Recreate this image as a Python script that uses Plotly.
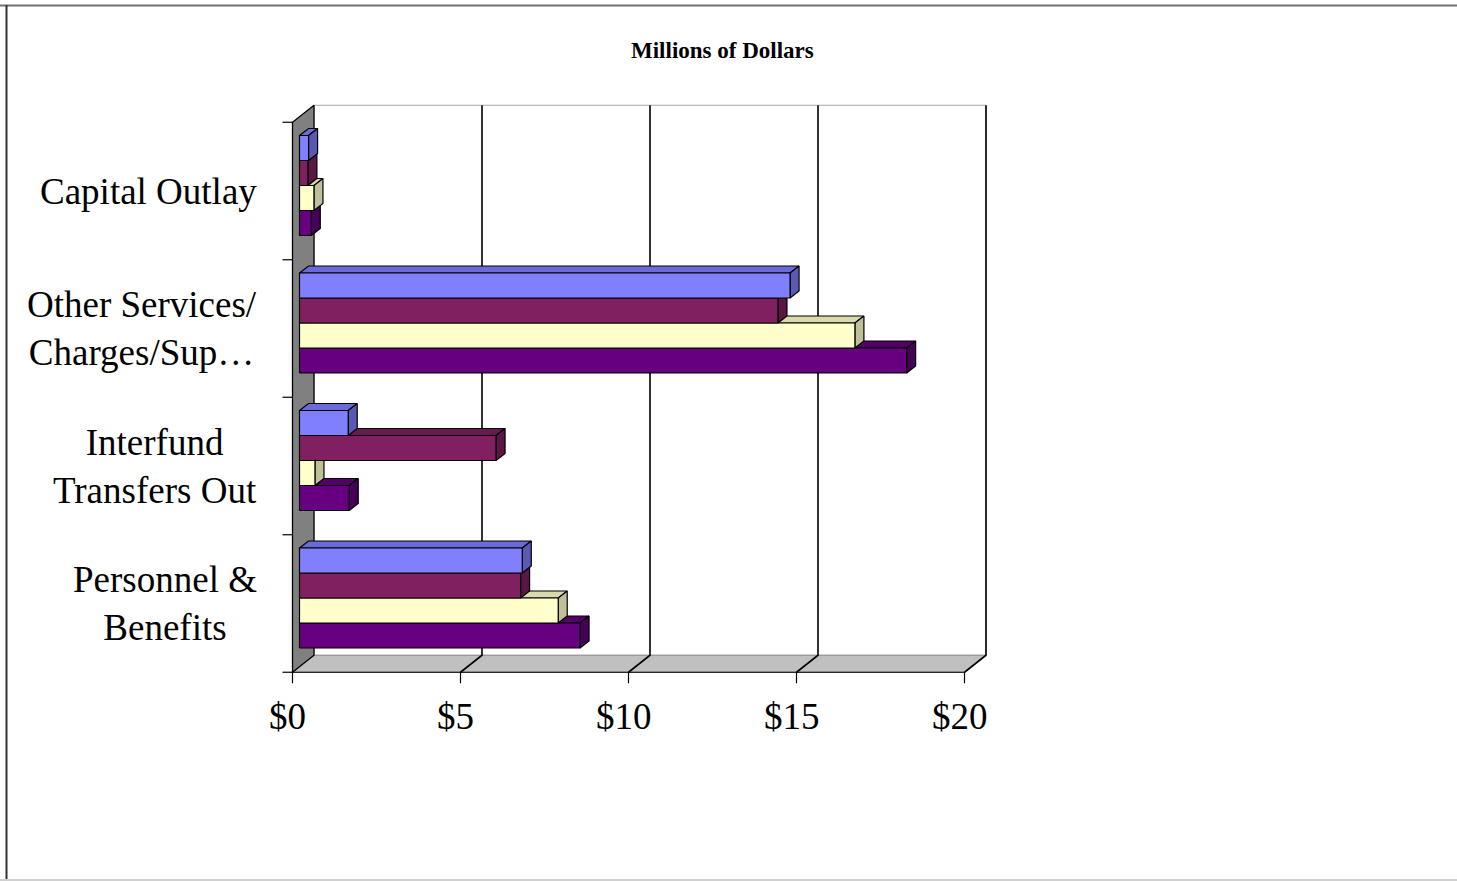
import plotly.graph_objects as go

# ---------------- data ----------------
CATEGORIES = ["Personnel &<br>Benefits", "Interfund<br>Transfers Out",
              "Other Services/<br>Charges/Sup…", "Capital Outlay"]
SERIES_1 = [6.63, 1.45, 14.6, 0.27]    # blue
SERIES_2 = [6.58, 5.85, 14.24, 0.25]   # maroon
SERIES_3 = [7.7, 0.46, 16.53, 0.43]    # light yellow
SERIES_4 = [8.35, 1.48, 18.07, 0.35]   # purple
TICK_VALUES = [0, 5, 10, 15, 20]
TICK_LABELS = ["$0", "$5", "$10", "$15", "$20"]
TITLE = "Millions of Dollars"

SERIES = [SERIES_1, SERIES_2, SERIES_3, SERIES_4]
# (front, top, side) colours
COLORS = [("#8080FF", "#6A6AD9", "#5A5AB5"),
          ("#802060", "#661A4D", "#5A1644"),
          ("#FFFFCC", "#D9D9AD", "#BFBF99"),
          ("#660080", "#520066", "#450057")]

# ---------------- geometry (pixel based) ----------------
W, H = 1457, 881
PX0, PPD = 292.5, 33.6     # x pixel of front $0, pixels per dollar
PY0, PPU = 603.5, 137.5    # y pixel of first category centre, pixels per category


def dx(px):
    return px / PPD


def dy(px):
    return px / PPU


LO = -0.5
HI = len(CATEGORIES) - 0.5
XMAX = TICK_VALUES[-1]
WDX, WDY = dx(21.5), dy(17)      # wall depth
BDX, BDY = dx(9), dy(7)          # bar depth
BX0 = dx(7)                      # bar front start
BH = dy(25)                      # bar thickness
BLOCK_SHIFT = dy(5.5)

fig = go.Figure()


def poly_trace(polys, fill, line_color, lw):
    xs, ys = [], []
    for p in polys:
        for (x, y) in p:
            xs.append(x)
            ys.append(y)
        xs.append(p[0][0])
        ys.append(p[0][1])
        xs.append(None)
        ys.append(None)
    return go.Scatter(x=xs, y=ys, mode="lines", fill="toself", fillcolor=fill,
                      line=dict(color=line_color, width=lw), hoverinfo="skip",
                      showlegend=False)


def line_trace(segs, color, lw):
    xs, ys = [], []
    for s in segs:
        for (x, y) in s:
            xs.append(x)
            ys.append(y)
        xs.append(None)
        ys.append(None)
    return go.Scatter(x=xs, y=ys, mode="lines", line=dict(color=color, width=lw),
                      hoverinfo="skip", showlegend=False)


# back wall
fig.add_trace(poly_trace([[(WDX, LO + WDY), (XMAX + WDX, LO + WDY),
                           (XMAX + WDX, HI + WDY), (WDX, HI + WDY)]],
                         "#FFFFFF", "#A8A8A8", 1))
# floor
fig.add_trace(poly_trace([[(0, LO), (XMAX, LO), (XMAX + WDX, LO + WDY), (WDX, LO + WDY)]],
                         "#C0C0C0", "#909090", 1))
# gridlines (back wall + floor diagonals)
grid = []
for v in TICK_VALUES[1:]:
    grid.append([(v, LO), (v + WDX, LO + WDY), (v + WDX, HI + WDY)])
fig.add_trace(line_trace(grid, "#000000", 1.6))
# left wall
fig.add_trace(poly_trace([[(0, LO), (0, HI), (WDX, HI + WDY), (WDX, LO + WDY)]],
                         "#808080", "#000000", 1.3))
# floor front edge + tick marks
ticks = [[(0, LO), (XMAX, LO)]]
for v in TICK_VALUES:
    ticks.append([(v, LO), (v, LO - dy(11))])
for k in range(len(CATEGORIES) + 1):
    b = LO + k
    ticks.append([(-dx(10), b), (0, b)])
fig.add_trace(line_trace(ticks, "#000000", 1.2))

# bars, drawn from the bottom series up so upper bars overlap lower ones' depth faces
for j in reversed(range(len(SERIES))):
    front_c, top_c, side_c = COLORS[j]
    tops, sides, fronts = [], [], []
    for i, v in enumerate(SERIES[j]):
        yc = i + BLOCK_SHIFT + (1.5 - j) * BH
        y0, y1 = yc - BH / 2, yc + BH / 2
        x0, x1 = BX0, BX0 + v
        tops.append([(x0, y1), (x1, y1), (x1 + BDX, y1 + BDY), (x0 + BDX, y1 + BDY)])
        sides.append([(x1, y0), (x1, y1), (x1 + BDX, y1 + BDY), (x1 + BDX, y0 + BDY)])
        fronts.append([(x0, y0), (x1, y0), (x1, y1), (x0, y1)])
    fig.add_trace(poly_trace(tops, top_c, "#000000", 1.2))
    fig.add_trace(poly_trace(sides, side_c, "#000000", 1.2))
    fig.add_trace(poly_trace(fronts, front_c, "#000000", 1.2))

FONT = "Liberation Serif, Times New Roman, serif"
annotations = []
for i, name in enumerate(CATEGORIES):
    annotations.append(dict(x=-dx(33.5), y=i, xref="x", yref="y", text=name,
                            showarrow=False, xanchor="right", yanchor="middle",
                            align="center", font=dict(family=FONT, size=37, color="#000000")))
for v, lab in zip(TICK_VALUES, TICK_LABELS):
    annotations.append(dict(x=v - dx(5), y=LO - dy(44), xref="x", yref="y", text=lab,
                            showarrow=False, xanchor="center", yanchor="middle",
                            font=dict(family=FONT, size=37, color="#000000")))
annotations.append(dict(x=722 / W, y=1 - 50 / H, xref="paper", yref="paper",
                        text="<b>" + TITLE + "</b>", showarrow=False,
                        xanchor="center", yanchor="middle",
                        font=dict(family=FONT, size=23, color="#000000")))

shapes = [
    dict(type="line", xref="paper", yref="paper", x0=0, x1=1, y0=1 - 5.5 / H, y1=1 - 5.5 / H,
         line=dict(color="#707070", width=2)),
    dict(type="line", xref="paper", yref="paper", x0=6.5 / W, x1=6.5 / W, y0=0, y1=1 - 5 / H,
         line=dict(color="#333333", width=2)),
    dict(type="line", xref="paper", yref="paper", x0=0, x1=1, y0=1 - 880 / H, y1=1 - 880 / H,
         line=dict(color="#D0D0D0", width=2)),
]

fig.update_layout(
    width=W, height=H,
    margin=dict(l=0, r=0, t=0, b=0, pad=0),
    paper_bgcolor="#FFFFFF", plot_bgcolor="#FFFFFF",
    xaxis=dict(visible=False, range=[-PX0 / PPD, (W - PX0) / PPD], fixedrange=True),
    yaxis=dict(visible=False, range=[(PY0 - H) / PPU, PY0 / PPU], fixedrange=True),
    showlegend=False,
    annotations=annotations,
    shapes=shapes,
)

fig.write_html("out.html")
